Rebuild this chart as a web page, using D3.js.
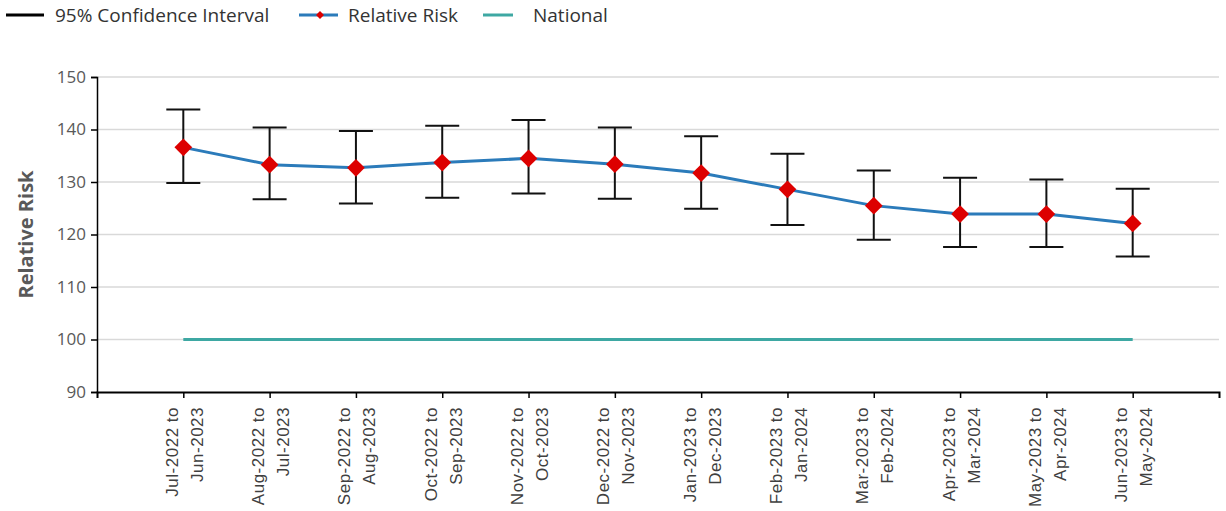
<!DOCTYPE html>
<html>
<head>
<meta charset="utf-8">
<script src="https://cdn.jsdelivr.net/npm/d3@7"></script>
<style>
    body { margin: 0; background: #fff; }
    svg { display: block; }
    .grid line { stroke: #d9d9d9; }
</style>
</head>
<body>
<svg id="chart" width="1226" height="511"></svg>
<script>
// data
var periods = [
    ["Jul-2022 to", "Jun-2023"],
    ["Aug-2022 to", "Jul-2023"],
    ["Sep-2022 to", "Aug-2023"],
    ["Oct-2022 to", "Sep-2023"],
    ["Nov-2022 to", "Oct-2023"],
    ["Dec-2022 to", "Nov-2023"],
    ["Jan-2023 to", "Dec-2023"],
    ["Feb-2023 to", "Jan-2024"],
    ["Mar-2023 to", "Feb-2024"],
    ["Apr-2023 to", "Mar-2024"],
    ["May-2023 to", "Apr-2024"],
    ["Jun-2023 to", "May-2024"]
];
var relativeRisk = [136.6, 133.3, 132.7, 133.7, 134.5, 133.4, 131.7, 128.6, 125.5, 123.9, 123.9, 122.1];
var ciUpper = [143.8, 140.4, 139.7, 140.7, 141.8, 140.4, 138.7, 135.4, 132.2, 130.8, 130.5, 128.7];
var ciLower = [129.8, 126.7, 125.9, 127.0, 127.8, 126.8, 124.9, 121.8, 119.0, 117.6, 117.6, 115.8];
var national = [100, 100, 100, 100, 100, 100, 100, 100, 100, 100, 100, 100];
var yTicks = [90, 100, 110, 120, 130, 140, 150];

var svg = d3.select("#chart");
var margin = { top: 77, right: 7, bottom: 119, left: 97 };
var width = +svg.attr("width") - margin.left - margin.right;
var height = +svg.attr("height") - margin.top - margin.bottom;
var g = svg.append("g").attr("transform", "translate(" + margin.left + "," + margin.top + ")");

var keys = periods.map(function(p) { return p.join(" "); });

var x = d3.scalePoint()
    .domain(keys)
    .range([0, width])
    .padding(1);

var y = d3.scaleLinear()
    .domain([90, 150])
    .range([height, 0]);

var data = keys.map(function(k, i) {
    return { key: k, rr: relativeRisk[i], hi: ciUpper[i], lo: ciLower[i], nat: national[i] };
});

// gridlines
g.append("g")
    .attr("class", "grid")
    .selectAll("line")
    .data(yTicks.slice(1))
    .enter().append("line")
    .attr("x1", 0)
    .attr("x2", width)
    .attr("y1", function(d) { return y(d); })
    .attr("y2", function(d) { return y(d); })
    .attr("stroke-width", 1.5);

// Attach Y Axis
var yAxis = g.append("g")
    .call(d3.axisLeft(y).tickValues(yTicks).tickSize(6).tickPadding(5));
yAxis.select(".domain").attr("stroke", "#000").attr("stroke-width", 1.5);
yAxis.selectAll(".tick line").attr("stroke", "#000").attr("stroke-width", 1.5);
yAxis.selectAll(".tick text")
    .attr("fill", "#595959")
    .style("font-family", "'Open Sans', 'DejaVu Sans', sans-serif")
    .style("font-size", "17px");

// Attach X Axis
var xAxis = g.append("g")
    .attr("transform", "translate(0," + height + ")")
    .call(d3.axisBottom(x).tickSize(6).tickSizeOuter(6).tickFormat(""));
xAxis.select(".domain").attr("stroke", "#000").attr("stroke-width", 2);
xAxis.selectAll(".tick line").attr("stroke", "#000").attr("stroke-width", 1.5);

xAxis.selectAll(".tick").each(function(d, i) {
    var t = d3.select(this).append("text")
        .attr("transform", "rotate(-90)")
        .attr("text-anchor", "end")
        .attr("fill", "#404040")
        .style("font-family", "'Liberation Sans', Arial, sans-serif")
        .style("font-size", "17px")
        .style("letter-spacing", "0.5px");
    t.append("tspan").attr("x", -15).attr("y", -6).text(periods[i][0]);
    t.append("tspan").attr("x", -15).attr("y", 19).text(periods[i][1]);
});

// y axis title
svg.append("text")
    .attr("transform", "translate(33," + (margin.top + height / 2) + ") rotate(-90)")
    .attr("text-anchor", "middle")
    .attr("fill", "#595959")
    .style("font-family", "'Open Sans', 'DejaVu Sans', sans-serif")
    .style("font-size", "20px")
    .style("font-weight", "bold")
    .text("Relative Risk");

// national line
g.append("path")
    .datum(data)
    .attr("fill", "none")
    .attr("stroke", "#3ea8a3")
    .attr("stroke-width", 3)
    .attr("d", d3.line()
        .x(function(d) { return x(d.key); })
        .y(function(d) { return y(d.nat); }));

// confidence intervals
var ci = g.append("g").selectAll("g")
    .data(data)
    .enter().append("g")
    .attr("stroke", "#111")
    .attr("stroke-width", 2);
ci.append("line")
    .attr("x1", function(d) { return x(d.key); })
    .attr("x2", function(d) { return x(d.key); })
    .attr("y1", function(d) { return y(d.hi); })
    .attr("y2", function(d) { return y(d.lo); });
ci.append("line")
    .attr("x1", function(d) { return x(d.key) - 17; })
    .attr("x2", function(d) { return x(d.key) + 17; })
    .attr("y1", function(d) { return y(d.hi); })
    .attr("y2", function(d) { return y(d.hi); });
ci.append("line")
    .attr("x1", function(d) { return x(d.key) - 17; })
    .attr("x2", function(d) { return x(d.key) + 17; })
    .attr("y1", function(d) { return y(d.lo); })
    .attr("y2", function(d) { return y(d.lo); });

// relative risk line
g.append("path")
    .datum(data)
    .attr("fill", "none")
    .attr("stroke", "#2b7bba")
    .attr("stroke-width", 3)
    .attr("d", d3.line()
        .x(function(d) { return x(d.key); })
        .y(function(d) { return y(d.rr); }));

var diamond = d3.symbol().type(d3.symbolDiamond2).size(200);
g.append("g").selectAll("path")
    .data(data)
    .enter().append("path")
    .attr("transform", function(d) { return "translate(" + x(d.key) + "," + y(d.rr) + ")"; })
    .attr("d", diamond)
    .attr("fill", "#dd0000");

// legend
var legend = svg.append("g")
    .style("font-family", "'Open Sans', 'DejaVu Sans', sans-serif")
    .style("font-size", "19px");

legend.append("line").attr("x1", 6).attr("x2", 44).attr("y1", 15).attr("y2", 15)
    .attr("stroke", "#000").attr("stroke-width", 3);
legend.append("text").attr("x", 55).attr("y", 22).attr("fill", "#333").text("95% Confidence Interval");

legend.append("line").attr("x1", 299).attr("x2", 338).attr("y1", 15).attr("y2", 15)
    .attr("stroke", "#2b7bba").attr("stroke-width", 3);
legend.append("path")
    .attr("transform", "translate(320,15)")
    .attr("d", d3.symbol().type(d3.symbolDiamond2).size(40))
    .attr("fill", "#dd0000");
legend.append("text").attr("x", 348).attr("y", 22).attr("fill", "#333").text("Relative Risk");

legend.append("line").attr("x1", 483).attr("x2", 513).attr("y1", 15).attr("y2", 15)
    .attr("stroke", "#3ea8a3").attr("stroke-width", 3);
legend.append("text").attr("x", 533).attr("y", 22).attr("fill", "#333").text("National");
</script>
</body>
</html>
